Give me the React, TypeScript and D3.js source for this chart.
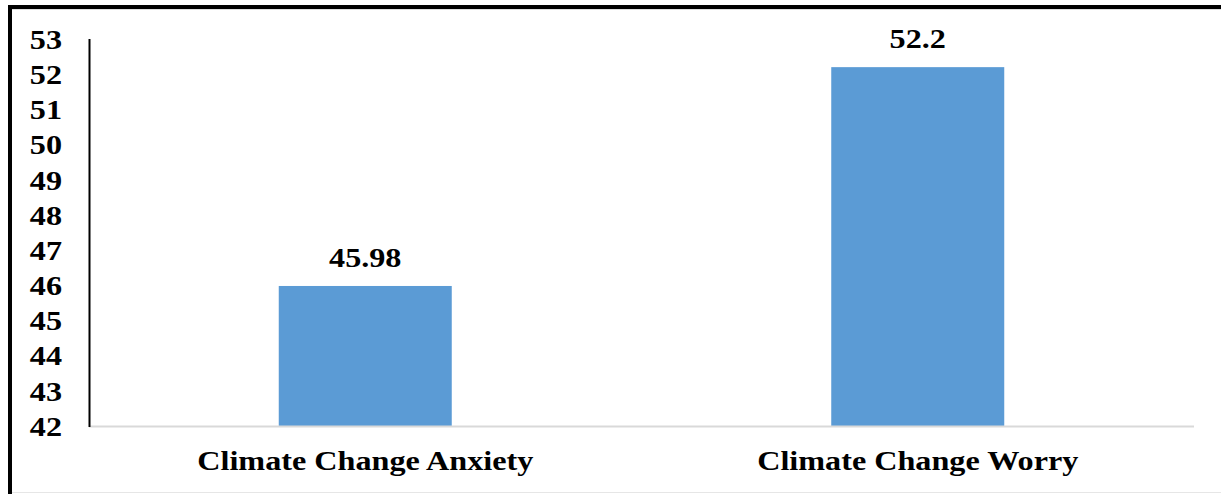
import React from "react";
import * as d3 from "d3";

const categories = ["Climate Change Anxiety", "Climate Change Worry"];
const values = [45.98, 52.2];
const valueLabels = ["45.98", "52.2"];
const yTicks = [42, 43, 44, 45, 46, 47, 48, 49, 50, 51, 52, 53];

const W = 1221;
const H = 494;
const FONT = "Liberation Serif, DejaVu Serif, serif";
const SX = 1.15;

function T({ x, y, anchor, size, children, dy }: any) {
  return (
    <g transform={`translate(${x},${y}) scale(${SX},1)`}>
      <text
        x={0}
        y={0}
        dy={dy}
        textAnchor={anchor}
        style={{ fontFamily: FONT, fontWeight: 700, fontSize: size }}
        fill="#000"
      >
        {children}
      </text>
    </g>
  );
}

export default function App() {
  const x0 = d3.scaleBand<string>().domain(categories).range([89, 1194]);
  const barW = 173;
  const y = d3.scaleLinear().domain([42, 53]).range([426, 39]);

  return (
    <svg
      width={W}
      height={H}
      style={{ position: "absolute", left: 0, top: 0, background: "#fff" }}
    >
      <rect x={0} y={0} width={W} height={H} fill="#fff" />
      {/* frame */}
      <line x1={10} y1={5} x2={10} y2={494} stroke="#000" strokeWidth={4} />
      <line x1={8} y1={7} x2={W} y2={7} stroke="#000" strokeWidth={4} />
      <line x1={12} y1={9.5} x2={W} y2={9.5} stroke="#ddd" strokeWidth={1} />
      <line x1={12} y1={492.5} x2={W} y2={492.5} stroke="#e6e6e6" strokeWidth={1} />

      {categories.map((c, i) => {
        const cx = (x0(c) as number) + x0.bandwidth() / 2;
        return (
          <g key={c}>
            <rect
              x={cx - barW / 2}
              y={y(values[i])}
              width={barW}
              height={y(42) - y(values[i])}
              fill="#5b9bd5"
            />
            <T x={cx} y={y(values[i]) - 19} anchor="middle" size={28}>
              {valueLabels[i]}
            </T>
            <T x={cx} y={470} anchor="middle" size={28}>
              {c}
            </T>
          </g>
        );
      })}

      <line x1={89} y1={426.5} x2={1194} y2={426.5} stroke="#d9d9d9" strokeWidth={2} />
      <line x1={89.5} y1={39} x2={89.5} y2={427} stroke="#000" strokeWidth={2} />

      {yTicks.map((t) => (
        <T key={t} x={62} y={y(t)} dy="0.35em" anchor="end" size={28}>
          {t}
        </T>
      ))}
    </svg>
  );
}
